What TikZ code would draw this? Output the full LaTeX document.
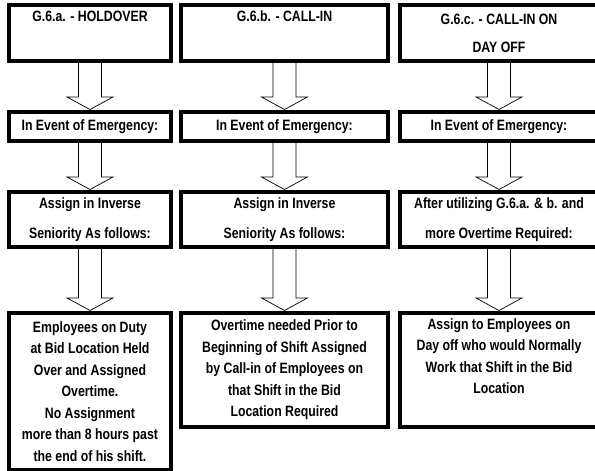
\documentclass[tikz,border=0pt]{standalone}
\usepackage{fontspec}
\setmainfont{Liberation Sans}[FakeStretch=0.82]
\usetikzlibrary{calc}
\tikzset{
  stepcard/.style={
    rectangle, draw=black, line width=3.6pt,
    fill=white, inner sep=0pt, outer sep=0pt,
    align=center,
    font=\bfseries\fontsize{15}{21.5}\selectfont
  },
  hollow/.style={draw=black, line width=0.7pt}
}

\begin{document}
\begin{tikzpicture}[x=1pt, y=-1pt]
  \useasboundingbox (0,0) rectangle (595,471);
  % top row
  \node[stepcard, minimum width=162, minimum height=56] (hold) at (90, 33) {G.6.a. - HOLDOVER\\[6.5pt]\strut};
  \node[stepcard, minimum width=207, minimum height=56] (callin) at (284.5, 33) {G.6.b. - CALL-IN\\[6.5pt]\strut};
  \node[stepcard, minimum width=198, minimum height=56] (dayoff) at (499, 33) {G.6.c. - CALL-IN ON\\[6.5pt]DAY OFF};
  % emergency row
  \node[stepcard, minimum width=162, minimum height=29] (emA) at (90, 126.5) {In Event of Emergency:};
  \node[stepcard, minimum width=207, minimum height=29] (emB) at (284.5, 126.5) {In Event of Emergency:};
  \node[stepcard, minimum width=198, minimum height=29] (emC) at (499, 126.5) {In Event of Emergency:};
  % assign row
  \node[stepcard, minimum width=162, minimum height=55] (invA) at (90, 219.5) {Assign in Inverse\\[8.5pt]Seniority As follows:};
  \node[stepcard, minimum width=207, minimum height=55] (invB) at (284.5, 219.5) {Assign in Inverse\\[8.5pt]Seniority As follows:};
  \node[stepcard, minimum width=198, minimum height=55] (afterC) at (499, 219.5) {After utilizing G.6.a. \& b. and\\[8.5pt]more Overtime Required:};
  % bottom row
  \node[stepcard, minimum width=162, minimum height=157] (dutyA) at (90, 391.5) {Employees on Duty\\at Bid Location Held\\Over and Assigned\\Overtime.\\No Assignment\\more than 8 hours past\\the end of his shift.};
  \node[stepcard, minimum width=207, minimum height=114] (priorB) at (284.5, 370) {Overtime needed Prior to\\Beginning of Shift Assigned\\by Call-in of Employees on\\that Shift in the Bid\\Location Required};
  \node[stepcard, minimum width=198, minimum height=114] (normC) at (499, 370) {Assign to Employees on\\Day off who would Normally\\Work that Shift in the Bid\\Location\\\strut};
  % block arrows
  \foreach \a/\b in {hold/emA, callin/emB, dayoff/emC, emA/invA, emB/invB, emC/afterC, invA/dutyA, invB/priorB, afterC/normC} {
    \draw[hollow] ($(\a.south)+(-11.5,0)$) -- ($(\b.north)+(-11.5,-15)$)
      -- ($(\b.north)+(-23,-15)$) -- ($(\b.north)+(0,-2.5)$)
      -- ($(\b.north)+(23,-15)$) -- ($(\b.north)+(11.5,-15)$)
      -- ($(\a.south)+(11.5,0)$);
  }
\end{tikzpicture}
\end{document}
